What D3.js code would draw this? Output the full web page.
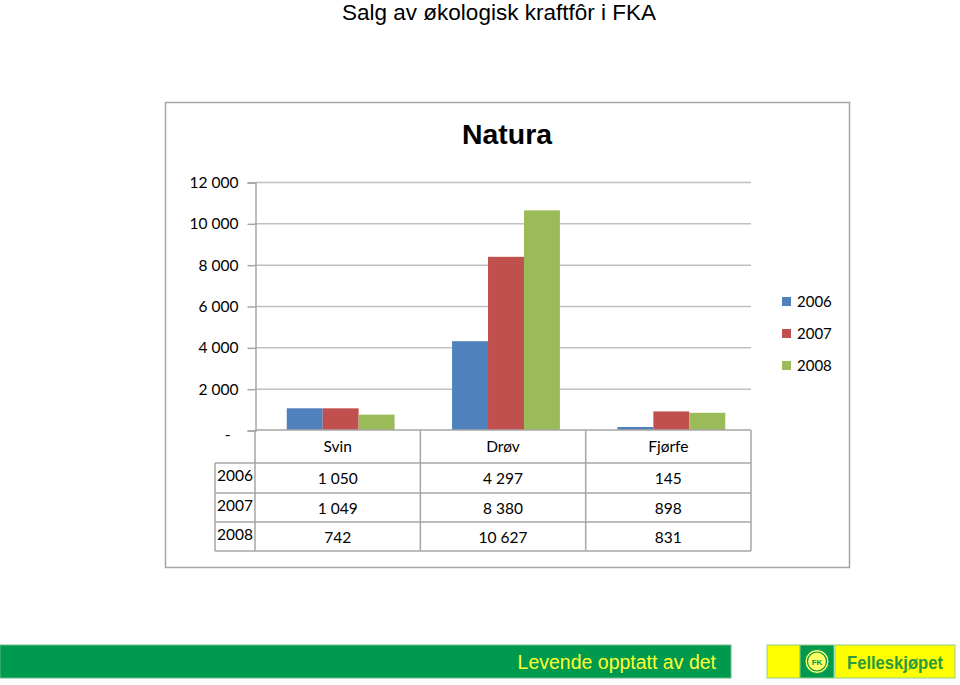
<!DOCTYPE html>
<html><head><meta charset="utf-8">
<script src="https://cdn.jsdelivr.net/npm/d3@7"></script>
<style>body{margin:0;background:#fff}svg{display:block}</style>
</head><body>
<svg id="c" width="960" height="685"></svg>
<script>
const categories = ["Svin", "Drøv", "Fjørfe"];
const years = ["2006", "2007", "2008"];
const values2006 = [1050, 4297, 145];
const values2007 = [1049, 8380, 898];
const values2008 = [742, 10627, 831];
const valueLabels2006 = ["1 050", "4 297", "145"];
const valueLabels2007 = ["1 049", "8 380", "898"];
const valueLabels2008 = ["742", "10 627", "831"];
const yTicks = [0, 2000, 4000, 6000, 8000, 10000, 12000];
const yTickLabels = ["-", "2 000", "4 000", "6 000", "8 000", "10 000", "12 000"];
const colors = ["#4f81bd", "#c0504d", "#9bbb59"];

const series = [values2006, values2007, values2008];
const seriesLabels = [valueLabels2006, valueLabels2007, valueLabels2008];
const font = "Lato, 'Open Sans', sans-serif";

const svg = d3.select("#c");

// page title
svg.append("text").attr("x", 499).attr("y", 20).attr("text-anchor", "middle")
  .attr("font-family", "'Liberation Sans', Arial, sans-serif").attr("font-size", 22.5)
  .attr("fill", "#000").text("Salg av økologisk kraftfôr i FKA");

// chart frame
svg.append("rect").attr("x", 165.5).attr("y", 102.5).attr("width", 684).attr("height", 465)
  .attr("fill", "#fff").attr("stroke", "#a6a6a6").attr("stroke-width", 1.5);

svg.append("text").attr("x", 507).attr("y", 144).attr("text-anchor", "middle")
  .attr("font-family", "'Liberation Sans Narrow', 'Liberation Sans', sans-serif").attr("font-weight", "bold")
  .attr("font-size", 28).attr("textLength", 90).attr("lengthAdjust", "spacingAndGlyphs")
  .attr("fill", "#000").text("Natura");

const pL = 255, pR = 751, pT = 182, pB = 430;
const y = d3.scaleLinear().domain([0, 12000]).range([pB, pT]);
const x0 = d3.scaleBand().domain(categories).range([pL, pR]);
const x1 = d3.scaleBand().domain(years).range([3, x0.bandwidth() + 3]).paddingOuter(0.8).paddingInner(0);

// gridlines
svg.append("g").selectAll("line").data(yTicks.filter(d => d > 0)).join("line")
  .attr("x1", pL).attr("x2", pR).attr("y1", d => y(d) + 0.5).attr("y2", d => y(d) + 0.5)
  .attr("stroke", "#bfbfbf").attr("stroke-width", 1.5);

// y axis
const yAxis = d3.axisLeft(y).tickValues(yTicks).tickSize(8).tickPadding(9)
  .tickFormat((d, i) => yTickLabels[i]);
const ga = svg.append("g").attr("transform", `translate(${pL + 0.5},0.5)`).call(yAxis);
ga.select(".domain").attr("stroke", "#a6a6a6").attr("stroke-width", 1.5);
ga.selectAll(".tick line").attr("stroke", "#a6a6a6").attr("stroke-width", 1.5);
ga.selectAll(".tick text").attr("font-family", font).attr("font-size", 15.5).attr("fill", "#000");
ga.selectAll(".tick").filter(d => d === 0).select("text").attr("x", -25).attr("dy", "0.6em");

// bars
const groups = svg.append("g").selectAll("g").data(categories).join("g")
  .attr("transform", d => `translate(${x0(d)},0)`);
groups.selectAll("rect").data((c, ci) => years.map((yr, si) => ({yr, v: series[si][ci], si}))).join("rect")
  .attr("x", d => x1(d.yr)).attr("width", x1.bandwidth())
  .attr("y", d => y(d.v)).attr("height", d => pB - y(d.v))
  .attr("fill", d => colors[d.si]);

// data table
const rowH = [33, 30, 29, 29];
const rowY = [430];
rowH.forEach((h, i) => rowY.push(rowY[i] + h));
const tableLeft = 215;
const tg = svg.append("g").attr("stroke", "#a6a6a6").attr("stroke-width", 1.5);
tg.append("line").attr("x1", pL).attr("x2", pR).attr("y1", rowY[0]).attr("y2", rowY[0]);
for (let i = 1; i < rowY.length; i++) {
  tg.append("line").attr("x1", tableLeft).attr("x2", pR).attr("y1", rowY[i]).attr("y2", rowY[i]);
}
tg.append("line").attr("x1", tableLeft).attr("x2", tableLeft).attr("y1", rowY[1]).attr("y2", rowY[4]);
const colEdges = [pL, ...categories.map(c => x0(c) + x0.bandwidth())];
colEdges.forEach(xv => tg.append("line").attr("x1", xv).attr("x2", xv).attr("y1", rowY[0]).attr("y2", rowY[4]));

svg.append("g").selectAll("text").data(categories).join("text")
  .attr("x", d => x0(d) + x0.bandwidth() / 2).attr("y", rowY[0] + 22)
  .attr("text-anchor", "middle").attr("font-family", font).attr("font-size", 15.5).text(d => d);

years.forEach((yr, si) => {
  const ty = rowY[si + 1] + 21;
  svg.append("text").attr("x", tableLeft + 2).attr("y", ty - 3).attr("font-family", font)
    .attr("font-size", 15.5).text(yr);
  svg.append("g").selectAll("text").data(categories).join("text")
    .attr("x", d => x0(d) + x0.bandwidth() / 2).attr("y", ty)
    .attr("text-anchor", "middle").attr("font-family", font).attr("font-size", 15.5)
    .text((d, ci) => seriesLabels[si][ci]);
});

// legend
const lg = svg.append("g").selectAll("g").data(years).join("g")
  .attr("transform", (d, i) => `translate(782,${297 + i * 32})`);
lg.append("rect").attr("width", 9).attr("height", 9).attr("fill", (d, i) => colors[i]);
lg.append("text").attr("x", 15).attr("y", 10).attr("font-family", font).attr("font-size", 15).text(d => d);

// footer
svg.append("rect").attr("x", 0).attr("y", 645).attr("width", 731).attr("height", 33)
  .attr("fill", "#009a4e").attr("stroke", "#66b98a").attr("stroke-width", 1);
svg.append("text").attr("x", 716).attr("y", 669).attr("text-anchor", "end")
  .attr("font-family", "'Liberation Sans', Arial, sans-serif").attr("font-size", 19.5)
  .attr("fill", "#ffff33").text("Levende opptatt av det");

svg.append("rect").attr("x", 767).attr("y", 645).attr("width", 33).attr("height", 33)
  .attr("fill", "#ffff00").attr("stroke", "#8fcf8a");
svg.append("rect").attr("x", 800).attr("y", 645).attr("width", 34).attr("height", 33)
  .attr("fill", "#009a4e").attr("stroke", "#8fcf8a");
svg.append("circle").attr("cx", 817).attr("cy", 661.5).attr("r", 12)
  .attr("fill", "#ffff66").attr("stroke", "#009a4e").attr("stroke-width", 1);
svg.append("circle").attr("cx", 817).attr("cy", 661.5).attr("r", 9.5)
  .attr("fill", "none").attr("stroke", "#009a4e").attr("stroke-width", 1.2);
svg.append("text").attr("x", 817).attr("y", 665).attr("text-anchor", "middle")
  .attr("font-family", "'Liberation Sans', Arial, sans-serif").attr("font-size", 8).attr("font-weight", "bold")
  .attr("fill", "#009a4e").text("FK");
svg.append("rect").attr("x", 835).attr("y", 645).attr("width", 120).attr("height", 33)
  .attr("fill", "#ffff00").attr("stroke", "#8fcf8a");
svg.append("text").attr("x", 895).attr("y", 669).attr("text-anchor", "middle")
  .attr("font-family", "'Liberation Sans', Arial, sans-serif").attr("font-weight", "bold")
  .attr("font-size", 19).attr("textLength", 96).attr("lengthAdjust", "spacingAndGlyphs")
  .attr("fill", "#2a9a3e").text("Felleskjøpet");
</script>
</body></html>
